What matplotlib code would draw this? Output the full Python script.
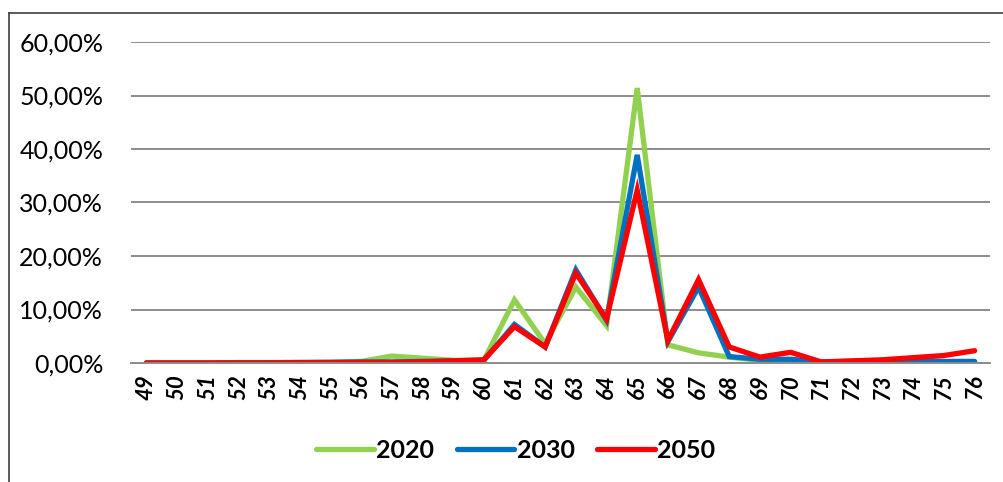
import numpy as np
import matplotlib
matplotlib.use('Agg')
import matplotlib.pyplot as plt
from matplotlib.lines import Line2D
from matplotlib.ticker import FuncFormatter

plt.rcParams['font.family'] = ['Lato', 'DejaVu Sans']

# categories 49..76 and the share (in %) per year
categories = [str(c) for c in range(49, 77)]
y2020 = [0.0, 0.0, 0.0, 0.1, 0.1, 0.1, 0.2, 0.3, 1.3, 0.9, 0.5, 0.5, 11.8, 3.6,
         14.2, 7.0, 51.4, 3.4, 1.9, 1.1, 0.5, 0.3, 0.1, 0.1, 0.1, 0.1, 0.0, 0.0]
y2030 = [0.0, 0.0, 0.0, 0.05, 0.05, 0.1, 0.1, 0.2, 0.2, 0.3, 0.4, 0.5, 7.2, 3.0,
         17.4, 8.0, 38.9, 4.0, 14.2, 1.2, 0.7, 0.7, 0.2, 0.3, 0.3, 0.4, 0.3, 0.3]
y2050 = [0.0, 0.0, 0.0, 0.0, 0.0, 0.05, 0.05, 0.1, 0.1, 0.2, 0.4, 0.6, 6.8, 3.0,
         16.8, 8.2, 32.3, 4.2, 15.6, 3.0, 1.1, 2.0, 0.2, 0.4, 0.6, 1.0, 1.4, 2.3]
series = [('2020', y2020, '#92D050'),
          ('2030', y2030, '#0070C0'),
          ('2050', y2050, '#FF0000')]

W, H = 1004, 482
fig = plt.figure(figsize=(W / 100, H / 100), dpi=100)
ax = fig.add_axes([131 / W, 1 - 363 / H, (990 - 131) / W, (363 - 42) / H])

x = np.arange(len(categories))
for name, vals, col in series:
    ax.plot(x, np.array(vals) / 100, color=col, lw=3.8, label=name,
            solid_joinstyle='miter', solid_capstyle='round')

ax.set_xlim(-0.5, len(categories) - 0.5)
ax.set_ylim(0, 0.6)
ax.set_yticks(np.arange(0, 0.61, 0.1))
ax.yaxis.set_major_formatter(FuncFormatter(lambda v, p: f"{v * 100:.2f}%".replace('.', ',')))
ax.grid(axis='y', color='#8c8c8c', lw=1.4)
ax.set_axisbelow(True)
for s in ['top', 'right', 'left']:
    ax.spines[s].set_visible(False)
ax.spines['bottom'].set_color('#8c8c8c')
ax.spines['bottom'].set_linewidth(1.4)
ax.tick_params(length=0)
ax.tick_params(axis='y', labelsize=18, pad=20)
ax.set_xticks(x)
ax.set_xticklabels(categories, rotation=90, fontsize=16, fontweight='bold',
                   fontstyle='italic')
ax.tick_params(axis='x', pad=8)

leg = ax.legend(loc='center', bbox_to_anchor=(516 / W, 1 - 450 / H),
                bbox_transform=fig.transFigure, ncol=3, frameon=False,
                prop={'size': 18, 'weight': 'bold'}, handlelength=2.3,
                handletextpad=0.1, columnspacing=0.9)

# outer chart frame (left and top edges visible)
fig.add_artist(Line2D([9 / W, 9 / W], [0, 1 - 13 / H], color='#404040', lw=1.2))
fig.add_artist(Line2D([9 / W, 1], [1 - 13 / H, 1 - 13 / H], color='#404040', lw=1.2))

fig.savefig('out.png', dpi=100)
